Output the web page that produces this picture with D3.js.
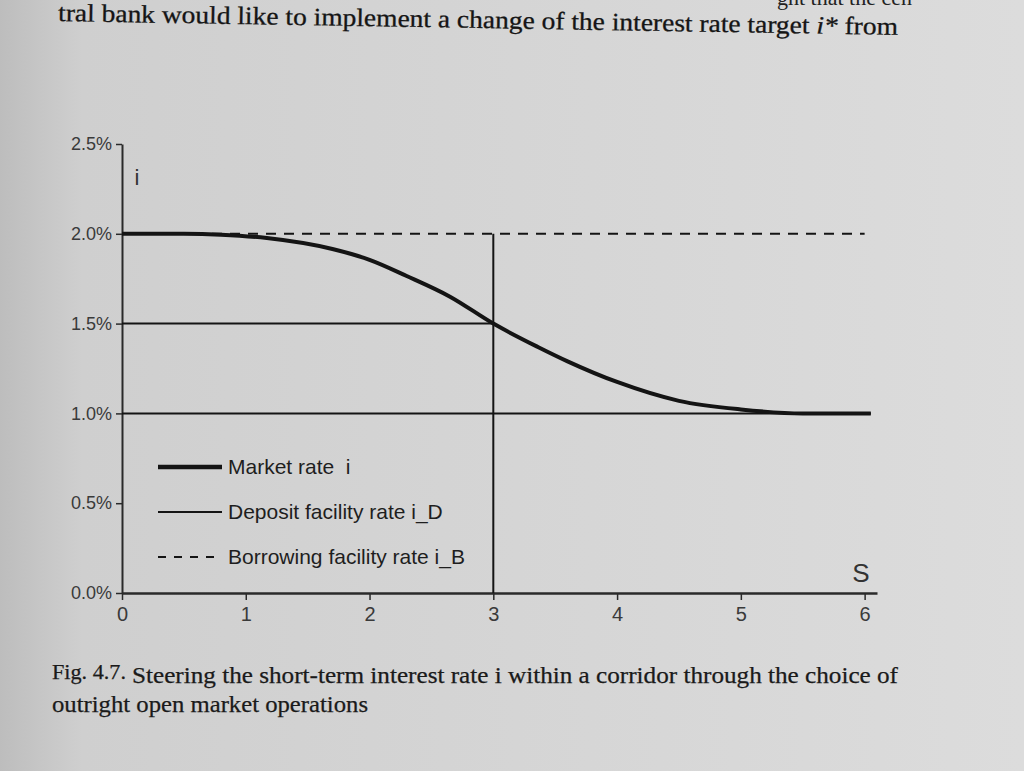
<!DOCTYPE html>
<html>
<head>
<meta charset="utf-8">
<script src="https://cdn.jsdelivr.net/npm/d3@7"></script>
<style>
  html, body { margin: 0; padding: 0; background: #d8d8d8; }
  svg { display: block; }
</style>
</head>
<body>
<div id="chart"></div>
<script>
// market rate i as a function of S
const marketS = [0, 0.5, 0.8, 1.17, 1.7, 2.0, 2.3, 2.65, 3.0, 3.36, 3.6, 4.0, 4.5, 5.0, 5.5, 6.05];
const marketI = [2.0, 2.0, 1.995, 1.976, 1.915, 1.855, 1.765, 1.65, 1.5, 1.37, 1.29, 1.175, 1.07, 1.022, 1.0, 1.0];

const depositRate = 1.0;     // i_D
const borrowingRate = 2.0;   // i_B
const targetS = 3;
const targetI = 1.5;
const lineEnd = [6.0, 6.05]; // dashed end, solid end

const xTicks = [0, 1, 2, 3, 4, 5, 6];
const yTicks = [0, 0.5, 1.0, 1.5, 2.0, 2.5];

const legendLabels = ["Market rate\u00a0\u00a0i", "Deposit facility rate i_D", "Borrowing facility rate i_B"];

const width = 1024, height = 771;
const sans = "Liberation Sans, Arial, sans-serif";
const serif = "Liberation Serif, serif";

const svg = d3.select("#chart").append("svg")
    .attr("width", width)
    .attr("height", height);

// paper background, darker towards the binding
const defs = svg.append("defs");
const grad = defs.append("linearGradient").attr("id", "paper").attr("x1", 0).attr("x2", 1).attr("y1", 0).attr("y2", 0);
grad.append("stop").attr("offset", "0%").attr("stop-color", "#bdbdbd");
grad.append("stop").attr("offset", "8%").attr("stop-color", "#cfcfcf");
grad.append("stop").attr("offset", "100%").attr("stop-color", "#dcdcdc");
svg.append("rect").attr("width", width).attr("height", height).attr("fill", "url(#paper)");

// running text of the book page (previous line is cut by the photo's edge)
svg.append("text")
    .text("ght that the cen")
    .attr("x", 912).attr("y", 5)
    .attr("text-anchor", "end")
    .attr("font-family", serif)
    .attr("font-size", 22)
    .attr("fill", "#222");

const pageLine = svg.append("text")
    .attr("transform", "rotate(0.95, 58, 21)")
    .attr("x", 58).attr("y", 21)
    .attr("font-family", serif)
    .attr("font-size", 25)
    .attr("fill", "#151515")
    .attr("stroke", "#151515").attr("stroke-width", 0.3);
pageLine.append("tspan").text("tral bank would like to implement a change of the interest rate target ");
pageLine.append("tspan").attr("font-style", "italic").text("i*");
pageLine.append("tspan").text(" from");
pageLine.attr("textLength", 840).attr("lengthAdjust", "spacingAndGlyphs");

// chart
const xScale = d3.scaleLinear().domain([0, 6.1]).range([122, 877]);
const yScale = d3.scaleLinear().domain([0, 2.5]).range([593, 144]);

const ink = "#141414";

const yAxis = svg.append("g")
    .attr("transform", `translate(${xScale(0)},0)`)
    .call(d3.axisLeft(yScale)
        .tickValues(yTicks)
        .tickFormat(d => d.toFixed(1) + "%")
        .tickSize(6)
        .tickSizeOuter(0)
        .tickPadding(4));
yAxis.select(".domain").attr("stroke", "#2a2a2a").attr("stroke-width", 2);
yAxis.selectAll(".tick line").attr("stroke", "#2a2a2a").attr("stroke-width", 1.5);
yAxis.selectAll(".tick text")
    .attr("font-family", sans)
    .attr("font-size", 18)
    .attr("fill", "#3a3a3a");

const xAxis = svg.append("g")
    .attr("transform", `translate(0,${yScale(0)})`)
    .call(d3.axisBottom(xScale)
        .tickValues(xTicks)
        .tickFormat(d3.format("d"))
        .tickSize(7)
        .tickSizeOuter(0)
        .tickPadding(7));
xAxis.select(".domain").attr("stroke", "#2a2a2a").attr("stroke-width", 2.5);
xAxis.selectAll(".tick line").attr("stroke", "#2a2a2a").attr("stroke-width", 1.5);
xAxis.selectAll(".tick text")
    .attr("font-family", sans)
    .attr("font-size", 20)
    .attr("fill", "#3a3a3a");

// axis letters
svg.append("text").text("i")
    .attr("x", xScale(0.1)).attr("y", yScale(2.27))
    .attr("font-family", sans)
    .attr("font-size", 22).attr("fill", "#333");
svg.append("text").text("S")
    .attr("x", xScale(5.97)).attr("y", yScale(0.06))
    .attr("text-anchor", "middle")
    .attr("font-family", sans)
    .attr("font-size", 26).attr("fill", "#333");

// borrowing facility rate (dashed)
svg.append("line")
    .attr("x1", xScale(0)).attr("x2", xScale(lineEnd[0]))
    .attr("y1", yScale(borrowingRate)).attr("y2", yScale(borrowingRate))
    .attr("stroke", ink).attr("stroke-width", 2)
    .attr("stroke-dasharray", "10,8");

// deposit facility rate
svg.append("line")
    .attr("x1", xScale(0)).attr("x2", xScale(lineEnd[1]))
    .attr("y1", yScale(depositRate)).attr("y2", yScale(depositRate))
    .attr("stroke", ink).attr("stroke-width", 2);

// target guides
svg.append("line")
    .attr("x1", xScale(0)).attr("x2", xScale(targetS))
    .attr("y1", yScale(targetI)).attr("y2", yScale(targetI))
    .attr("stroke", ink).attr("stroke-width", 2);
svg.append("line")
    .attr("x1", xScale(targetS)).attr("x2", xScale(targetS))
    .attr("y1", yScale(0)).attr("y2", yScale(borrowingRate))
    .attr("stroke", ink).attr("stroke-width", 2);

// market rate
const market = marketS.map((s, k) => ({ s: s, i: marketI[k] }));
svg.append("path")
    .datum(market)
    .attr("fill", "none")
    .attr("stroke", ink)
    .attr("stroke-width", 4)
    .attr("stroke-linejoin", "round")
    .attr("d", d3.line().x(d => xScale(d.s)).y(d => yScale(d.i)).curve(d3.curveMonotoneX));

// legend
const legendStyles = [
    { w: 4.5, dash: null },
    { w: 2, dash: null },
    { w: 2, dash: "8,8" }
];
const legend = svg.append("g").attr("transform", "translate(158,467)");
legendLabels.forEach((label, k) => {
    const g = legend.append("g").attr("transform", `translate(0,${k * 45})`);
    g.append("line")
        .attr("x1", 0).attr("x2", 64).attr("y1", 0).attr("y2", 0)
        .attr("stroke", ink)
        .attr("stroke-width", legendStyles[k].w)
        .attr("stroke-dasharray", legendStyles[k].dash);
    g.append("text").text(label)
        .attr("x", 70).attr("y", 7)
        .attr("font-family", sans)
        .attr("font-size", 21)
        .attr("fill", "#1e1e1e");
});

// caption
const cap = svg.append("g")
    .attr("font-family", serif)
    .attr("fill", "#1a1a1a")
    .attr("stroke", "#1a1a1a").attr("stroke-width", 0.25);
cap.append("text").text("Fig. 4.7.")
    .attr("x", 52).attr("y", 679)
    .attr("font-size", 21)
    .attr("textLength", 74).attr("lengthAdjust", "spacingAndGlyphs");
cap.append("text").text("Steering the short-term interest rate i within a corridor through the choice of")
    .attr("x", 132).attr("y", 683)
    .attr("font-size", 23)
    .attr("textLength", 766).attr("lengthAdjust", "spacingAndGlyphs");
cap.append("text").text("outright open market operations")
    .attr("x", 52).attr("y", 712)
    .attr("font-size", 23)
    .attr("textLength", 316).attr("lengthAdjust", "spacingAndGlyphs");
</script>
</body>
</html>
